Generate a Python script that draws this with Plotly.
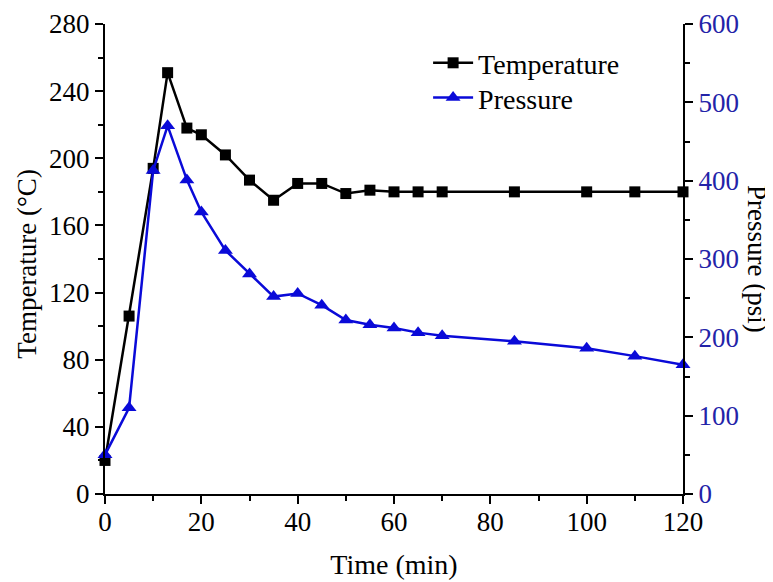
import plotly.graph_objects as go

time_min = [0, 5, 10, 13, 17, 20, 25, 30, 35, 40, 45, 50, 55, 60, 65, 70, 85, 100, 110, 120]
temperature_c = [20, 106, 194, 251, 218, 214, 202, 187, 175, 185, 185, 179, 181, 180, 180, 180, 180, 180, 180, 180]
pressure_psi = [50, 110, 413, 470, 401, 360, 311, 281, 252, 256, 241, 222, 216, 212, 206, 202, 195, 186, 176, 165]

FONT = "Liberation Serif, Times New Roman, serif"
BLUE = "#0a0ad8"
TICKBLUE = "#2323a8"
FS = 27

fig = go.Figure()
fig.add_trace(go.Scatter(
    x=time_min, y=temperature_c, name="Temperature", mode="lines+markers",
    line=dict(color="black", width=2.5),
    marker=dict(symbol="square", size=11, color="black"),
    cliponaxis=False, yaxis="y", legend="legend"))
fig.add_trace(go.Scatter(
    x=time_min, y=pressure_psi, name="Pressure", mode="lines+markers",
    line=dict(color=BLUE, width=2.5),
    marker=dict(symbol="triangle-up", size=13, color=BLUE),
    cliponaxis=False, yaxis="y2", legend="legend2"))

leg_common = dict(xanchor="left", yanchor="top", bgcolor="rgba(0,0,0,0)",
                  font=dict(size=28, family=FONT), tracegroupgap=0, itemwidth=40)

fig.update_layout(
    width=765, height=574,
    margin=dict(l=97, r=90, t=16, b=88, autoexpand=False),
    paper_bgcolor="white", plot_bgcolor="white",
    font=dict(family=FONT, size=FS, color="black"),
    showlegend=True,
    legend=dict(x=0.559, y=0.970, **leg_common),
    legend2=dict(x=0.559, y=0.896, **leg_common),
    xaxis=dict(range=[0, 120], dtick=20, tick0=0, showgrid=False, zeroline=False,
               showline=True, linecolor="black", linewidth=2, automargin=False,
               ticks="outside", ticklen=8, tickwidth=2, tickcolor="black",
               minor=dict(dtick=10, ticks="outside", ticklen=5, tickwidth=2, tickcolor="black"),
               ticklabelstandoff=-5,
               title=dict(text="Time (min)", font=dict(size=28), standoff=18),
               tickfont=dict(size=FS)),
    yaxis=dict(range=[0, 280], dtick=40, tick0=0, showgrid=False, zeroline=False,
               showline=True, linecolor="black", linewidth=2, automargin=False,
               ticks="outside", ticklen=8, tickwidth=2, tickcolor="black",
               minor=dict(dtick=20, ticks="outside", ticklen=5, tickwidth=2, tickcolor="black"),
               tickfont=dict(size=FS)),
    yaxis2=dict(range=[0, 600], dtick=100, tick0=0, overlaying="y", side="right",
                showgrid=False, zeroline=False, automargin=False,
                showline=True, linecolor="black", linewidth=2,
                ticks="outside", ticklen=8, tickwidth=2, tickcolor="black",
                minor=dict(dtick=50, ticks="outside", ticklen=5, tickwidth=2, tickcolor="black"),
                tickfont=dict(size=FS, color=TICKBLUE)),
)

fig.add_annotation(text="Temperature (°C)", textangle=-90, xref="paper", yref="paper",
                   x=(27 - 105) / 578, y=0.49, xanchor="center", yanchor="middle", showarrow=False,
                   font=dict(size=27, family=FONT, color="black"))
fig.add_annotation(text="Pressure (psi)", textangle=90, xref="paper", yref="paper",
                   x=(757 - 105) / 578, y=0.5, xanchor="center", yanchor="middle", showarrow=False,
                   font=dict(size=27, family=FONT, color="black"))

fig.write_html("out.html")
